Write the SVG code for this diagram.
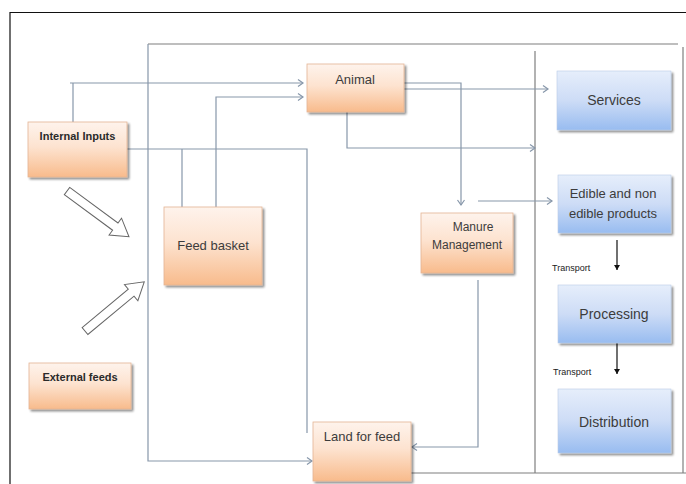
<svg xmlns="http://www.w3.org/2000/svg" width="686" height="484" viewBox="0 0 686 484">
<defs>
<linearGradient id="gOr" x1="0" y1="0" x2="0" y2="1">
<stop offset="0" stop-color="#fef3ec"/>
<stop offset="0.45" stop-color="#fde3d0"/>
<stop offset="1" stop-color="#f8bb8c"/>
</linearGradient>
<linearGradient id="gBl" x1="0" y1="0" x2="0" y2="1">
<stop offset="0" stop-color="#e6eefb"/>
<stop offset="0.5" stop-color="#cddcf6"/>
<stop offset="1" stop-color="#98bcf0"/>
</linearGradient>
<filter id="sh" x="-10%" y="-10%" width="125%" height="130%">
<feGaussianBlur in="SourceAlpha" stdDeviation="1"/>
<feOffset dx="1.5" dy="2" result="b"/>
<feComponentTransfer><feFuncA type="linear" slope="0.45"/></feComponentTransfer>
<feMerge><feMergeNode/><feMergeNode in="SourceGraphic"/></feMerge>
</filter>
<marker id="ah" markerWidth="10" markerHeight="10" refX="8" refY="5" orient="auto" markerUnits="userSpaceOnUse">
<path d="M3,1.5 L8,5 L3,8.5" fill="none" stroke="#8797aa" stroke-width="1.2"/>
</marker>
<marker id="ahb" markerWidth="8" markerHeight="8" refX="6" refY="4" orient="auto" markerUnits="userSpaceOnUse">
<path d="M1,1 L6,4 L1,7 Z" fill="#111"/>
</marker>
<polygon id="blk" points="0,-4.5 60,-4.5 60,-10.5 77,0 60,10.5 60,4.5 0,4.5"/>
</defs>
<style>
.or{fill:url(#gOr);stroke:#e3b594;stroke-width:0.8;filter:url(#sh)}
.bl{fill:url(#gBl);stroke:#b9cbe6;stroke-width:0.6;filter:url(#sh)}
.t{font-family:"Liberation Sans",Arial,sans-serif;font-size:13px;fill:#3c3c3c;text-anchor:middle}
.tb{font-family:"Liberation Sans",Arial,sans-serif;font-size:11px;font-weight:bold;fill:#2a2a2a;text-anchor:middle}
.ts{font-family:"Liberation Sans",Arial,sans-serif;font-size:9px;fill:#222}
.c{fill:none;stroke:#8797aa;stroke-width:1.2}
.k{fill:none;stroke:#111;stroke-width:1.2}
.f{fill:none;stroke:#7f7f7f;stroke-width:1.2}
.ha{fill:#fff;stroke:#666;stroke-width:1}
</style>
<rect width="686" height="484" fill="#fff"/>
<g id="frame">
<path class="k" d="M10,484 V12.5 H686"/>
<path class="f" d="M148,44 H678"/>
<path class="f" d="M683,47 V473"/>
<path class="f" d="M535,51 V473"/>
<path class="f" d="M411,473 H686"/>
</g>
<g id="connectors">
<path class="c" d="M73,122 V83"/>
<path class="c" d="M70,83 H303" marker-end="url(#ah)"/>
<path class="c" d="M216,207 V97 H303" marker-end="url(#ah)"/>
<path class="c" d="M182,207 V149"/>
<path class="c" d="M127,149 H307 V433"/>
<path class="c" d="M404,83 H461 V205" marker-end="url(#ah)"/>
<path class="c" d="M404,89 H548" marker-end="url(#ah)"/>
<path class="c" d="M347,112 V148 H535" marker-end="url(#ah)"/>
<path class="c" d="M478,201 H552" marker-end="url(#ah)"/>
<path class="c" d="M478,280 V447 H412" marker-end="url(#ah)"/>
<path class="c" d="M148,44 V461 H312" marker-end="url(#ah)"/>
<path class="k" d="M617,240 V270" marker-end="url(#ahb)"/>
<path class="k" d="M617,343 V374" marker-end="url(#ahb)"/>
<use href="#blk" class="ha" transform="translate(67,191) rotate(36.4)"/>
<use href="#blk" class="ha" transform="translate(85,331) rotate(-39.7)"/>
<text class="ts" x="552" y="271">Transport</text>
<text class="ts" x="553" y="375">Transport</text>
</g>
<g id="internal-inputs">
<rect class="or" x="28" y="122" width="99" height="55"/>
<text class="tb" x="77.5" y="140">Internal Inputs</text>
</g>
<g id="external-feeds">
<rect class="or" x="29" y="363" width="102" height="46"/>
<text class="tb" x="80" y="381">External feeds</text>
</g>
<g id="feed-basket">
<rect class="or" x="164" y="207" width="98" height="78"/>
<text class="t" x="213" y="250">Feed basket</text>
</g>
<g id="animal">
<rect class="or" x="307" y="64" width="97" height="48"/>
<text class="t" x="355" y="84">Animal</text>
</g>
<g id="manure-management">
<rect class="or" x="421" y="213" width="92" height="60"/>
<text class="t" x="473" y="231" style="font-size:12px">Manure</text>
<text class="t" x="467" y="249" style="font-size:12px">Management</text>
</g>
<g id="land-for-feed">
<rect class="or" x="313" y="422" width="98" height="59"/>
<text class="t" x="362" y="441">Land for feed</text>
</g>
<g id="services">
<rect class="bl" x="557" y="71" width="114" height="59"/>
<text class="t" x="614" y="105" style="font-size:14px">Services</text>
</g>
<g id="edible-products">
<rect class="bl" x="558" y="175" width="113" height="58"/>
<text class="t" x="613" y="198">Edible and non</text>
<text class="t" x="613" y="218">edible products</text>
</g>
<g id="processing">
<rect class="bl" x="558" y="285" width="113" height="58"/>
<text class="t" x="614" y="319" style="font-size:14px">Processing</text>
</g>
<g id="distribution">
<rect class="bl" x="558" y="389" width="113" height="64"/>
<text class="t" x="614" y="427" style="font-size:14px">Distribution</text>
</g>
</svg>
